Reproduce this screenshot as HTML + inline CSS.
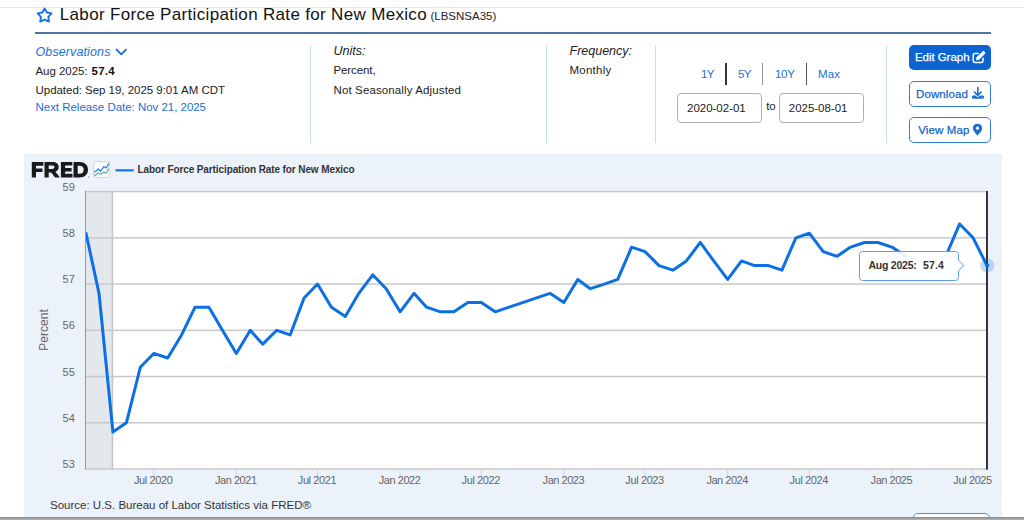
<!DOCTYPE html>
<html><head><meta charset="utf-8"><title>Labor Force Participation Rate for New Mexico</title>
<style>
html,body{margin:0;padding:0;background:#fff;}
body{width:1024px;height:520px;position:relative;overflow:hidden;font-family:"Liberation Sans",sans-serif;}
.t{position:absolute;white-space:nowrap;font-family:"Liberation Sans",sans-serif;}
.a{position:absolute;}
.vd{position:absolute;top:45px;height:98px;width:1px;background:#c9dde8;}
.btn{position:absolute;left:909px;width:81.5px;box-sizing:border-box;border-radius:5px;}
.inp{position:absolute;top:93px;height:30px;box-sizing:border-box;border:1px solid #b0b0b0;border-radius:4px;background:#fff;}
svg{position:absolute;left:0;top:0;}
</style></head><body>
<div class="a" style="left:0;top:7px;width:1024px;height:1px;background:#e9e9e9"></div>
<div class="a" style="left:35px;top:32px;width:955.5px;height:1.5px;background:#4c759f"></div>
<div class="vd" style="left:310px"></div><div class="vd" style="left:546px"></div><div class="vd" style="left:655px"></div><div class="vd" style="left:886px"></div>
<div class="a" style="left:725px;top:63px;width:1.6px;height:22px;background:#363636"></div>
<div class="a" style="left:761.9px;top:63px;width:1.3px;height:22px;background:#8f8f8f"></div>
<div class="a" style="left:805.9px;top:63px;width:1.2px;height:22px;background:#555"></div>
<div class="inp" style="left:677px;width:85px"></div>
<div class="inp" style="left:779px;width:85px"></div>
<div class="btn" style="top:45px;height:25px;background:#0b64d2"></div>
<div class="btn" style="top:81px;height:25.5px;border:1px solid #2f7ddf;background:#fff"></div>
<div class="btn" style="top:117px;height:25.5px;border:1px solid #2f7ddf;background:#fff"></div>
<div class="a" style="left:24px;top:154px;width:978px;height:366px;background:#ebf2fa"></div>
<div class="btn" style="left:913px;width:77px;top:513px;height:25px;border:1px solid #4a8fe3;background:#fff"></div>
<div class="a" style="left:0;top:517px;width:1024px;height:3px;background:linear-gradient(#8a8a8a,#b8b8b8)"></div>
<svg width="1024" height="520" viewBox="0 0 1024 520">
<!-- star -->
<path d="M44.60 8.40 L46.89 12.54 L51.54 13.44 L48.31 16.91 L48.89 21.61 L44.60 19.60 L40.31 21.61 L40.89 16.91 L37.66 13.44 L42.31 12.54 Z" fill="none" stroke="#1b72e0" stroke-width="1.9" stroke-linejoin="round"/>
<!-- chevron -->
<path d="M116.6 49.6 L121.3 54.3 L126 49.6" fill="none" stroke="#1a6fd6" stroke-width="1.9" stroke-linecap="round" stroke-linejoin="round"/>
<!-- plot -->
<defs><clipPath id="cp"><rect x="86" y="185" width="903" height="290"/></clipPath></defs>
<rect x="86" y="191" width="901" height="278" fill="#fff"/>
<rect x="86" y="191" width="26.92" height="278" fill="#e3e8ed"/>
<rect x="86" y="422.02" width="901" height="1.5" fill="#c9c9c9"/><rect x="86" y="375.78" width="901" height="1.5" fill="#c9c9c9"/><rect x="86" y="329.55" width="901" height="1.5" fill="#c9c9c9"/><rect x="86" y="283.32" width="901" height="1.5" fill="#c9c9c9"/><rect x="86" y="237.08" width="901" height="1.5" fill="#c9c9c9"/><rect x="86" y="190.85" width="901" height="1.5" fill="#c9c9c9"/>
<rect x="86" y="468.25" width="901" height="1.5" fill="#c9c9c9"/>
<rect x="111.62" y="191" width="1.6" height="278.5" fill="#c4c4c4"/>
<rect x="85" y="190.8" width="1" height="279" fill="#9a9a9a"/>
<rect x="153.25" y="469.7" width="1" height="8" fill="#ccd6eb"/><rect x="235.82" y="469.7" width="1" height="8" fill="#ccd6eb"/><rect x="317.03" y="469.7" width="1" height="8" fill="#ccd6eb"/><rect x="399.59" y="469.7" width="1" height="8" fill="#ccd6eb"/><rect x="480.81" y="469.7" width="1" height="8" fill="#ccd6eb"/><rect x="563.37" y="469.7" width="1" height="8" fill="#ccd6eb"/><rect x="644.59" y="469.7" width="1" height="8" fill="#ccd6eb"/><rect x="727.15" y="469.7" width="1" height="8" fill="#ccd6eb"/><rect x="808.81" y="469.7" width="1" height="8" fill="#ccd6eb"/><rect x="891.37" y="469.7" width="1" height="8" fill="#ccd6eb"/><rect x="972.59" y="469.7" width="1" height="8" fill="#ccd6eb"/>
<polyline clip-path="url(#cp)" points="86.00,233.21 99.01,293.31 112.92,432.01 126.38,422.77 140.29,367.29 153.75,353.42 167.66,358.04 181.57,334.92 195.04,307.18 208.95,307.18 222.41,330.30 236.32,353.42 250.23,330.30 262.79,344.17 276.70,330.30 290.16,334.92 304.07,297.94 317.53,284.07 331.44,307.18 345.35,316.43 358.81,293.31 372.72,274.82 386.18,288.69 400.09,311.81 414.00,293.31 426.57,307.18 440.48,311.81 453.94,311.81 467.85,302.56 481.31,302.56 495.22,311.81 509.13,307.18 522.59,302.56 536.50,297.94 549.96,293.31 563.87,302.56 577.78,279.44 590.34,288.69 604.25,284.07 617.72,279.44 631.63,247.08 645.09,251.70 659.00,265.57 672.91,270.20 686.37,260.95 700.28,242.46 713.74,260.95 727.65,279.44 741.56,260.95 754.57,265.57 768.48,265.57 781.94,270.20 795.85,237.83 809.31,233.21 823.22,251.70 837.13,256.33 850.59,247.08 864.50,242.46 877.96,242.46 891.87,247.08 905.78,256.33 918.35,260.95 932.26,260.95 945.72,256.33 959.63,223.96 973.09,237.83 987.00,265.57" fill="none" stroke="#0c70e4" stroke-width="3" stroke-linejoin="round" stroke-linecap="round"/>
<rect x="986.05" y="191" width="1.85" height="278.6" fill="#262626"/>
<circle cx="987.2" cy="265.57" r="7" fill="#0d6fe0" fill-opacity="0.25"/>
<circle cx="987.2" cy="265.57" r="2" fill="#0d6fe0"/>
<!-- FRED logo -->
<path fill="#1a1a1a" fill-rule="evenodd" d="M31.8 162 H43.4 V165.7 H36 V168.5 H42.5 V172 H36 V177.4 H31.8 Z
M44.5 162 H52.6 C56.4 162 58.7 164 58.7 167.1 C58.7 169.5 57.4 171.1 55.4 171.8 L59.9 177.4 H55 L51.2 172.4 H48.7 V177.4 H44.5 Z M48.7 165.6 V169 H52.2 C53.6 169 54.4 168.3 54.4 167.3 C54.4 166.2 53.6 165.6 52.2 165.6 Z
M60.9 162 H72.3 V165.6 H65.1 V168 H71.6 V171.4 H65.1 V173.8 H72.5 V177.4 H60.9 Z
M73.5 162 H79.6 C84.8 162 88 165.2 88 169.7 C88 174.2 84.8 177.4 79.6 177.4 H73.5 Z M77.7 165.7 V173.7 H79.6 C82.1 173.7 83.7 172.1 83.7 169.7 C83.7 167.3 82.1 165.7 79.6 165.7 Z"/>
<circle cx="88.6" cy="176.9" r="0.5" fill="#444"/>
<!-- chart icon -->
<rect x="93.9" y="161.7" width="15.2" height="15.6" rx="1.5" fill="#fff" stroke="#c6c6c6" stroke-width="0.8"/>
<polyline points="94.4,172.4 98.2,169 100.5,171.3 103.8,166.6 106.1,168 108.9,163.4" fill="none" stroke="#2b7de9" stroke-width="1.2" stroke-linejoin="round"/>
<polyline points="94.3,175.7 98.2,173.2 100.5,174.3 103.6,172.3 105.9,173.2 108.9,168.5" fill="none" stroke="#4fa89b" stroke-width="1.1" stroke-linejoin="round"/>
<!-- edit icon -->
<path d="M978.2 53.6 H975 a1.8 1.8 0 0 0 -1.8 1.8 V60.6 a1.8 1.8 0 0 0 1.8 1.8 H981.3 a1.8 1.8 0 0 0 1.8 -1.8 V58.2" fill="none" stroke="#fff" stroke-width="1.5" stroke-linecap="round"/>
<path d="M976 59.9 L976.6 57.3 L982.6 51.3 a1 1 0 0 1 1.4 0 L985 52.3 a1 1 0 0 1 0 1.4 L979 59.7 L976.3 60.3 Z" fill="#fff"/>
<!-- download icon -->
<path d="M977.8 87.6 V95.2 M974.4 92 L977.8 95.4 L981.2 92" fill="none" stroke="#1a6fd6" stroke-width="1.6" stroke-linecap="round" stroke-linejoin="round"/>
<path d="M973 95.4 H975.6 L977.8 97.2 L980 95.4 H983 a1 1 0 0 1 1 1 V97.8 a1 1 0 0 1 -1 1 H973 a1 1 0 0 1 -1 -1 V96.4 a1 1 0 0 1 1 -1 Z" fill="#1a6fd6"/>
<circle cx="982.1" cy="97.3" r="0.55" fill="#fff"/>
<!-- map marker -->
<path fill-rule="evenodd" fill="#1a6fd6" d="M977.5 123.7 C980.2 123.7 982.2 125.7 982.2 128.3 C982.2 130.6 979.5 133.4 977.5 135.7 C975.5 133.4 972.8 130.6 972.8 128.3 C972.8 125.7 974.8 123.7 977.5 123.7 Z M977.5 126.6 a1.6 1.6 0 1 0 0.001 0 Z"/>
<!-- legend line -->
<rect x="115.5" y="169.3" width="18.2" height="2.1" fill="#0c70e4"/>
<!-- tooltip -->
<path d="M862.5 251.5 H955.5 a3 3 0 0 1 3 3 V260 L963.6 265.5 L958.5 271 V277.5 a3 3 0 0 1 -3 3 H862.5 a3 3 0 0 1 -3 -3 V254.5 a3 3 0 0 1 3 -3 Z" fill="#fff" fill-opacity="0.92" stroke="#5b9ee6" stroke-width="1"/>
<rect x="864.8" y="256.8" width="86.8" height="16.6" fill="#fff" fill-opacity="0.6"/>
</svg>
<div class="t" id="perc" style="left:44px;top:330px;font-size:12px;line-height:12px;letter-spacing:0.05px;color:#666;transform:translate(-50%,-50%) rotate(-90deg);">Percent</div>
<!-- FRED logo -->
<span id="title" class="t" style="left:59.80px;top:6.21px;font-size:17px;line-height:17px;letter-spacing:0.328px;color:#111;">Labor Force Participation Rate for New Mexico</span>
<span id="sid" class="t" style="left:430.50px;top:10.87px;font-size:11.5px;line-height:11.5px;letter-spacing:-0.009px;color:#222;">(LBSNSA35)</span>
<span id="obs" class="t" style="left:35.50px;top:45.52px;font-size:12.5px;line-height:12.5px;letter-spacing:0.112px;color:#1a6fd6;font-style:italic;">Observations</span>
<span id="aug" class="t" style="left:35.50px;top:65.77px;font-size:11.5px;line-height:11.5px;letter-spacing:-0.049px;color:#222;">Aug 2025:</span>
<span id="augv" class="t" style="left:91.50px;top:65.77px;font-size:11.5px;line-height:11.5px;letter-spacing:0.277px;color:#111;font-weight:bold;">57.4</span>
<span id="upd" class="t" style="left:35.50px;top:84.62px;font-size:11.5px;line-height:11.5px;letter-spacing:-0.031px;color:#222;">Updated: Sep 19, 2025 9:01 AM CDT</span>
<span id="nrd" class="t" style="left:35.50px;top:102.37px;font-size:11.5px;line-height:11.5px;letter-spacing:-0.027px;color:#1a6fd6;">Next Release Date: Nov 21, 2025</span>
<span id="units" class="t" style="left:333.50px;top:45.02px;font-size:12.5px;line-height:12.5px;letter-spacing:0.008px;color:#222;font-style:italic;">Units:</span>
<span id="pct" class="t" style="left:333.50px;top:65.37px;font-size:11.5px;line-height:11.5px;letter-spacing:-0.104px;color:#222;">Percent,</span>
<span id="nsa" class="t" style="left:333.50px;top:84.62px;font-size:11.5px;line-height:11.5px;letter-spacing:0.123px;color:#222;">Not Seasonally Adjusted</span>
<span id="freq" class="t" style="left:569.50px;top:45.02px;font-size:12.5px;line-height:12.5px;letter-spacing:-0.003px;color:#222;font-style:italic;">Frequency:</span>
<span id="mon" class="t" style="left:569.50px;top:65.37px;font-size:11.5px;line-height:11.5px;letter-spacing:0.246px;color:#222;">Monthly</span>
<span id="y1" class="t" style="left:701.00px;top:69.12px;font-size:11.5px;line-height:11.5px;letter-spacing:-0.539px;color:#1a6fd6;">1Y</span>
<span id="y5" class="t" style="left:738.00px;top:69.12px;font-size:11.5px;line-height:11.5px;letter-spacing:-0.539px;color:#1a6fd6;">5Y</span>
<span id="y10" class="t" style="left:775.00px;top:69.12px;font-size:11.5px;line-height:11.5px;letter-spacing:-0.323px;color:#1a6fd6;">10Y</span>
<span id="max" class="t" style="left:818.00px;top:69.12px;font-size:11.5px;line-height:11.5px;letter-spacing:0.089px;color:#1a6fd6;">Max</span>
<span id="d1" class="t" style="left:687.00px;top:103.37px;font-size:11.5px;line-height:11.5px;letter-spacing:-0.008px;color:#222;">2020-02-01</span>
<span id="to" class="t" style="left:766.25px;top:101.47px;font-size:11.5px;line-height:11.5px;letter-spacing:-0.172px;color:#222;">to</span>
<span id="d2" class="t" style="left:788.75px;top:103.37px;font-size:11.5px;line-height:11.5px;letter-spacing:-0.008px;color:#222;">2025-08-01</span>
<span id="eg" class="t" style="left:914.90px;top:52.37px;font-size:11.5px;line-height:11.5px;letter-spacing:-0.038px;color:#fff;-webkit-text-stroke:0.25px #fff;">Edit Graph</span>
<span id="dl" class="t" style="left:916.00px;top:88.62px;font-size:11.5px;line-height:11.5px;letter-spacing:0.105px;color:#1467cc;-webkit-text-stroke:0.25px #1467cc;">Download</span>
<span id="vm" class="t" style="left:918.20px;top:124.62px;font-size:11.5px;line-height:11.5px;letter-spacing:0.125px;color:#1467cc;-webkit-text-stroke:0.25px #1467cc;">View Map</span>
<span id="leg" class="t" style="left:137.50px;top:164.63px;font-size:10px;line-height:10px;letter-spacing:-0.105px;color:#333;font-weight:bold;">Labor Force Participation Rate for New Mexico</span>
<span id="src" class="t" style="left:50.00px;top:500.37px;font-size:11.5px;line-height:11.5px;letter-spacing:0.001px;color:#333;">Source: U.S. Bureau of Labor Statistics via FRED®</span>
<span id="tt" class="t" style="left:868.50px;top:259.91px;font-size:10.5px;line-height:10.5px;letter-spacing:-0.243px;color:#333;font-weight:bold;">Aug 2025:</span>
<span id="ttv" class="t" style="left:923.00px;top:259.91px;font-size:10.5px;line-height:10.5px;letter-spacing:0.141px;color:#333;font-weight:bold;">57.4</span>
<span id="yl53" class="t" style="left:62.50px;top:459.09px;font-size:11px;line-height:11px;letter-spacing:0.125px;color:#666;">53</span>
<span id="yl54" class="t" style="left:62.50px;top:412.86px;font-size:11px;line-height:11px;letter-spacing:0.125px;color:#666;">54</span>
<span id="yl55" class="t" style="left:62.50px;top:366.62px;font-size:11px;line-height:11px;letter-spacing:0.125px;color:#666;">55</span>
<span id="yl56" class="t" style="left:62.50px;top:320.39px;font-size:11px;line-height:11px;letter-spacing:0.125px;color:#666;">56</span>
<span id="yl57" class="t" style="left:62.50px;top:274.16px;font-size:11px;line-height:11px;letter-spacing:0.125px;color:#666;">57</span>
<span id="yl58" class="t" style="left:62.50px;top:227.92px;font-size:11px;line-height:11px;letter-spacing:0.125px;color:#666;">58</span>
<span id="yl59" class="t" style="left:62.50px;top:181.69px;font-size:11px;line-height:11px;letter-spacing:0.125px;color:#666;">59</span>
<span id="xl0" class="t" style="left:134.00px;top:475.29px;font-size:11px;line-height:11px;letter-spacing:-0.387px;color:#666;">Jul 2020</span>
<span id="xl1" class="t" style="left:215.07px;top:475.29px;font-size:11px;line-height:11px;letter-spacing:-0.471px;color:#666;">Jan 2021</span>
<span id="xl2" class="t" style="left:297.78px;top:475.29px;font-size:11px;line-height:11px;letter-spacing:-0.387px;color:#666;">Jul 2021</span>
<span id="xl3" class="t" style="left:378.84px;top:475.29px;font-size:11px;line-height:11px;letter-spacing:-0.471px;color:#666;">Jan 2022</span>
<span id="xl4" class="t" style="left:461.56px;top:475.29px;font-size:11px;line-height:11px;letter-spacing:-0.387px;color:#666;">Jul 2022</span>
<span id="xl5" class="t" style="left:542.62px;top:475.29px;font-size:11px;line-height:11px;letter-spacing:-0.471px;color:#666;">Jan 2023</span>
<span id="xl6" class="t" style="left:625.34px;top:475.29px;font-size:11px;line-height:11px;letter-spacing:-0.387px;color:#666;">Jul 2023</span>
<span id="xl7" class="t" style="left:706.40px;top:475.29px;font-size:11px;line-height:11px;letter-spacing:-0.471px;color:#666;">Jan 2024</span>
<span id="xl8" class="t" style="left:789.56px;top:475.29px;font-size:11px;line-height:11px;letter-spacing:-0.387px;color:#666;">Jul 2024</span>
<span id="xl9" class="t" style="left:870.62px;top:475.29px;font-size:11px;line-height:11px;letter-spacing:-0.471px;color:#666;">Jan 2025</span>
<span id="xl10" class="t" style="left:953.34px;top:475.29px;font-size:11px;line-height:11px;letter-spacing:-0.387px;color:#666;">Jul 2025</span>
</body></html>
